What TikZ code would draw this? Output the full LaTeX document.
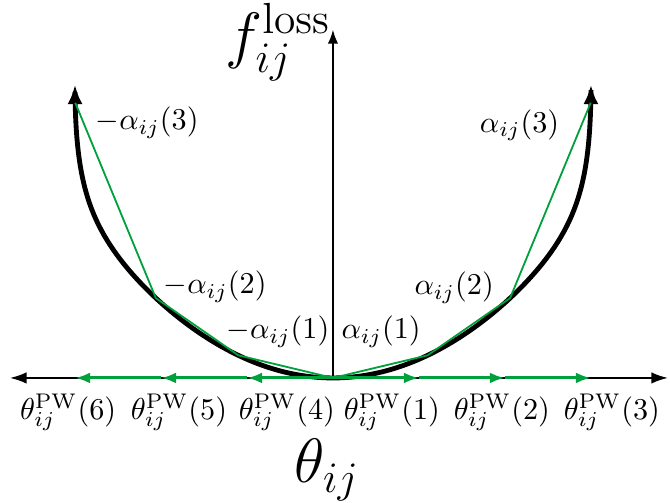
\documentclass[tikz,border=0pt]{standalone}
\usetikzlibrary{arrows.meta}
\definecolor{pwgreen}{RGB}{0,160,60}
\begin{document}
\begin{tikzpicture}[x=1cm,y=1cm,
  axis/.style={line width=0.6pt,black},
  axtip/.tip={Latex[length=5.5pt,width=3.8pt]},
  curvetip/.tip={Latex[length=6.5pt,width=5pt]},
  losscurve/.style={line width=1.6pt,black,curvetip-curvetip},
  pwline/.style={pwgreen,line width=0.6pt},
  pwarrow/.style={pwgreen,line width=1pt,-{Latex[length=5pt,width=3.6pt]}},
  lbl/.style={font=\fontsize{10.2}{12.2}\selectfont,inner sep=0pt},
  biglbl/.style={font=\huge,inner sep=0pt},
  declare function={gc(\p)=1-cos(\p);}]
\useasboundingbox (-3.872,-1.453) rectangle (3.919,4.395);
% axes
\coordinate (o) at (0,0);
\coordinate (xl) at (-3.756,0);
\coordinate (xr) at (3.895,0);
\coordinate (yt) at (0,4.05);
\draw[axis,axtip-axtip] (xl) -- (xr);
\draw[axis,-{Latex[length=4.6pt,width=3.4pt]}] (o) -- (yt);
% loss curve
\draw[losscurve] plot[domain=-90:90,samples=181,smooth,variable=\p]
  ({3*sin(\p)},{1.953*sin(\p)*sin(\p)+1.46*gc(\p)*gc(\p)*gc(\p)*gc(\p)});
% piecewise linear approximation
\coordinate (l1) at (-1.1,0.263);
\coordinate (l2) at (-2.06,0.929);
\coordinate (l3) at (-2.997,3.2);
\coordinate (r1) at (1.1,0.263);
\coordinate (r2) at (2.06,0.929);
\coordinate (r3) at (2.997,3.2);
\draw[pwline] (l3) -- (l2) -- (l1) -- (o) -- (r1) -- (r2) -- (r3);
% breakpoints on the axis
\coordinate (p1) at (1,0);
\coordinate (p2) at (2,0);
\coordinate (p3) at (3,0);
\coordinate (m1) at (-1,0);
\coordinate (m2) at (-2,0);
\coordinate (m3) at (-3,0);
\draw[pwarrow] (o) -- (p1);
\draw[pwarrow] (p1) -- (p2);
\draw[pwarrow] (p2) -- (p3);
\draw[pwarrow] (o) -- (m1);
\draw[pwarrow] (m1) -- (m2);
\draw[pwarrow] (m2) -- (m3);
% slope labels
\node[lbl] (lm3) at (-2.16,2.97) {$-\alpha_{ij}(3)$};
\node[lbl] (la3) at (2.17,2.94) {$\alpha_{ij}(3)$};
\node[lbl] (lm2) at (-1.37,1.06) {$-\alpha_{ij}(2)$};
\node[lbl] (la2) at (1.41,1.05) {$\alpha_{ij}(2)$};
\node[lbl] (lm1) at (-0.64,0.535) {$-\alpha_{ij}(1)$};
\node[lbl] (la1) at (0.56,0.535) {$\alpha_{ij}(1)$};
% breakpoint labels
\node[lbl] (t6) at (-3.08,-0.40) {$\theta_{ij}^{\mathrm{PW}}(6)$};
\node[lbl] (t5) at (-1.79,-0.40) {$\theta_{ij}^{\mathrm{PW}}(5)$};
\node[lbl] (t4) at (-0.535,-0.40) {$\theta_{ij}^{\mathrm{PW}}(4)$};
\node[lbl] (t1) at (0.686,-0.40) {$\theta_{ij}^{\mathrm{PW}}(1)$};
\node[lbl] (t2) at (1.965,-0.40) {$\theta_{ij}^{\mathrm{PW}}(2)$};
\node[lbl] (t3) at (3.244,-0.40) {$\theta_{ij}^{\mathrm{PW}}(3)$};
% axis labels
\node[biglbl,anchor=north east] (fl) at (-0.02,4.36) {$f_{ij}^{\mathrm{loss}}$};
\node[biglbl] (th) at (-0.07,-1.07) {$\theta_{ij}$};
\end{tikzpicture}
\end{document}
